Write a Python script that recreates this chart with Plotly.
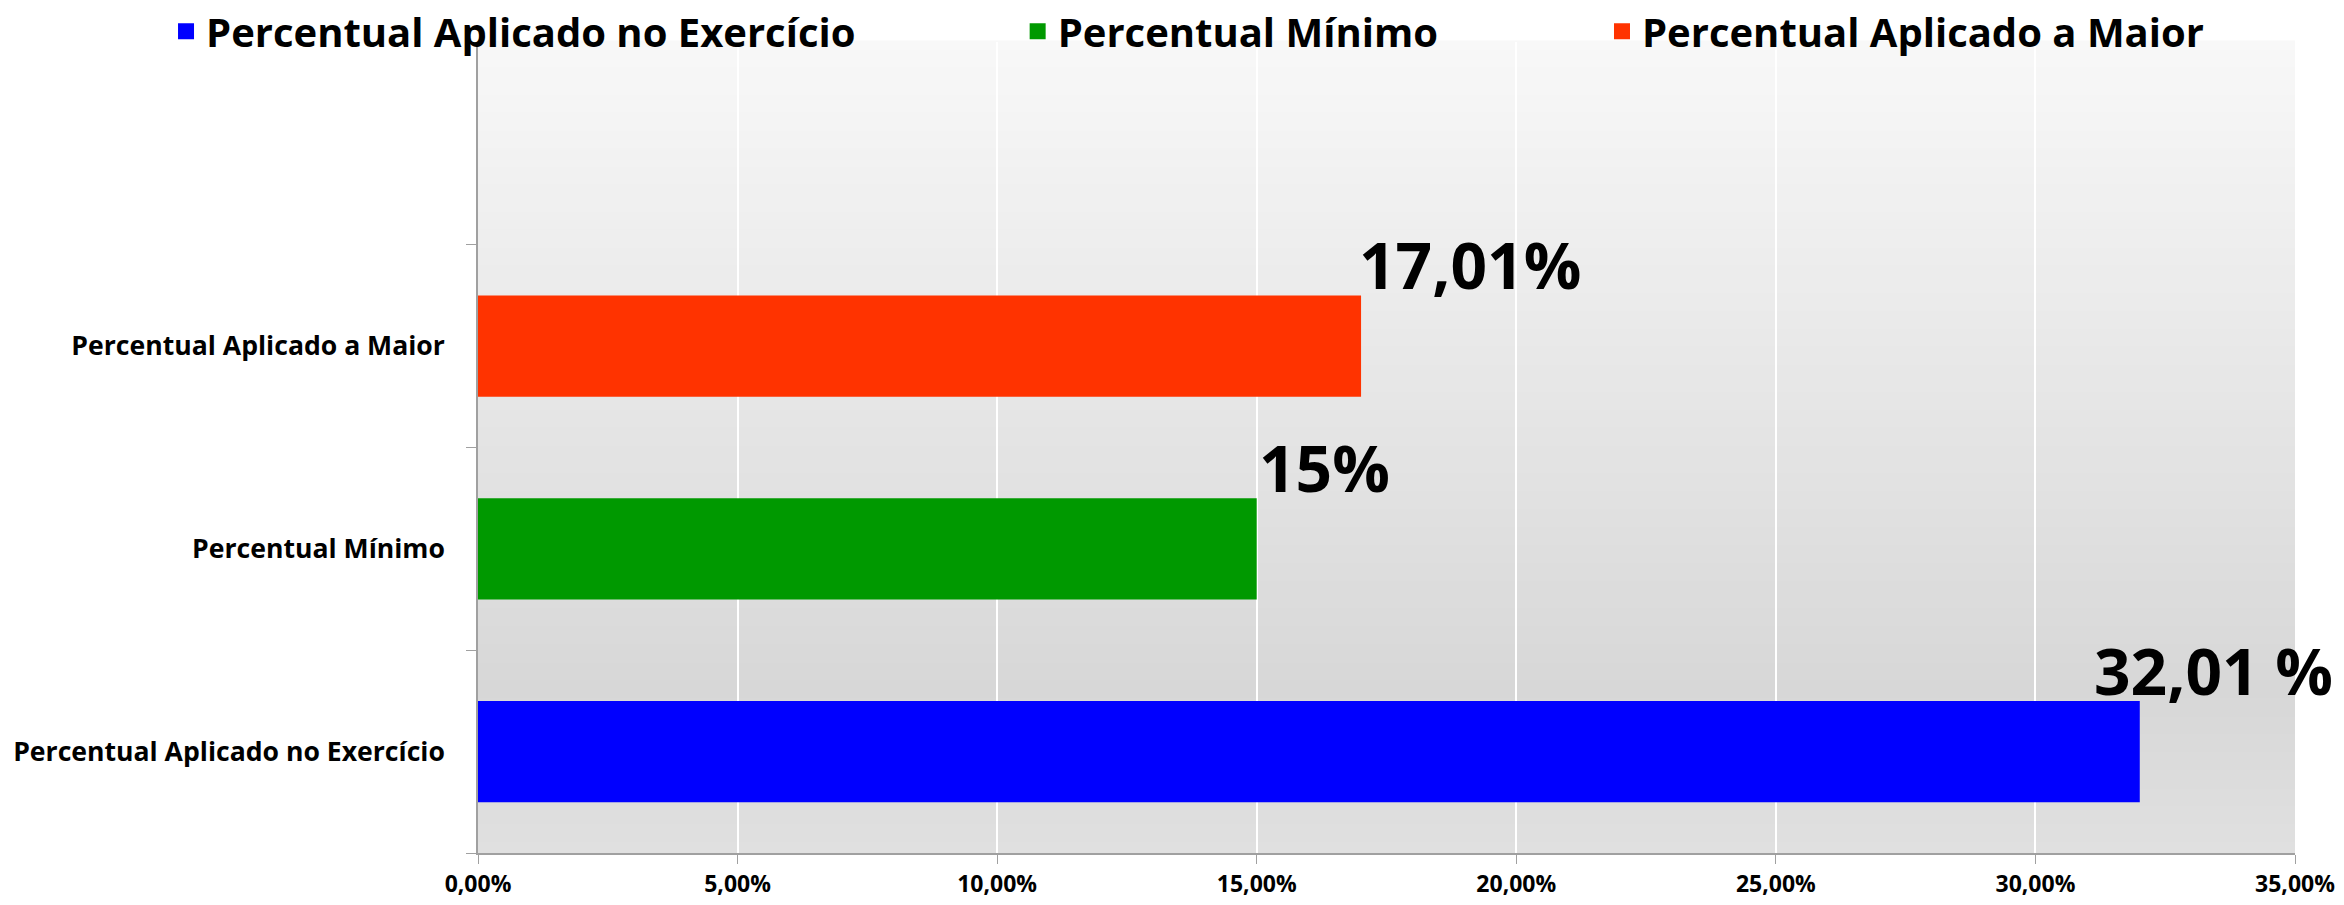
import plotly.graph_objects as go

# ---- data ----
categories = ["Percentual Aplicado no Exercício", "Percentual Mínimo", "Percentual Aplicado a Maior"]
values = [0.3201, 0.15, 0.1701]
value_labels = ["32,01 %", "15%", "17,01%"]
bar_colors = ["#0000FF", "#009900", "#FF3300"]
x_ticks = [0, 0.05, 0.10, 0.15, 0.20, 0.25, 0.30, 0.35]

FONT = "Open Sans"
W, H = 2344, 905
ML, MR, MT, MB = 478, 49, 42, 52

fig = go.Figure()

legend_names = ["legend", "legend2", "legend3"]
for cat, val, col, lg in zip(categories, values, bar_colors, legend_names):
    fig.add_trace(go.Bar(
        y=[cat], x=[val], orientation="h", width=0.5,
        marker=dict(color=col, line=dict(width=0)),
        showlegend=False, hoverinfo="x+y",
    ))
    # legend proxy (bigger square symbol)
    fig.add_trace(go.Scatter(
        x=[None], y=[None], mode="markers", name=cat,
        marker=dict(symbol="square", size=16, color=col),
        legend=lg, showlegend=True,
    ))

# background vertical gradient (plot area)
stops = [(0.0, 248), (0.22, 239), (0.59, 224), (0.8, 215), (1.0, 224)]
def shade(f):
    for (a, ca), (b, cb) in zip(stops[:-1], stops[1:]):
        if a <= f <= b:
            return ca + (cb - ca) * (f - a) / (b - a)
    return stops[-1][1]

N = 90
shapes = []
for i in range(N):
    f0 = i / N
    f1 = (i + 1) / N
    v = int(round(shade((f0 + f1) / 2)))
    c = f"rgb({v},{v},{v})"
    shapes.append(dict(type="rect", xref="x domain", yref="y domain",
                       x0=0, x1=1, y0=1 - f1, y1=1 - f0 + 0.002,
                       fillcolor=c, line=dict(width=0), layer="below"))

# data labels
label_xshift = [-48, 0, -4]
annotations = []
for cat, val, txt, xs in zip(categories, values, value_labels, label_xshift):
    annotations.append(dict(
        x=val, y=cat, xref="x", yref="y", text=txt, showarrow=False,
        xanchor="left", yanchor="bottom", xshift=xs, yshift=36,
        font=dict(family=FONT, size=64, color="black", weight="bold"),
    ))

legend_common = dict(
    orientation="h", yanchor="middle", y=1.0133, xanchor="left",
    bgcolor="rgba(0,0,0,0)", borderwidth=0,
    font=dict(family=FONT, size=40, color="black", weight="bold"),
)
layout_legends = {
    "legend": dict(x=-0.1717, **legend_common),
    "legend2": dict(x=0.2970, **legend_common),
    "legend3": dict(x=0.6186, **legend_common),
}

fig.update_layout(
    width=W, height=H,
    margin=dict(l=ML, r=MR, t=MT, b=MB, pad=0, autoexpand=False),
    paper_bgcolor="white",
    plot_bgcolor="rgba(0,0,0,0)",
    barmode="overlay",
    separators=",.",
    shapes=shapes,
    annotations=annotations,
    **layout_legends,
)

fig.update_xaxes(
    range=[0, 0.35], tickvals=x_ticks, tickformat=".2%",
    showgrid=True, gridcolor="white", gridwidth=1.5,
    zeroline=False,
    showline=True, linecolor="#a0a0a0", linewidth=2,
    ticks="outside", ticklen=9, tickcolor="#a0a0a0", tickwidth=1,
    ticklabelstandoff=0,
    tickfont=dict(family=FONT, size=23, color="black", weight="bold"),
    fixedrange=True,
)
fig.update_yaxes(
    type="category", categoryorder="array", categoryarray=categories,
    range=[-0.5, 3.5],
    showgrid=False, zeroline=False,
    showline=True, linecolor="#a0a0a0", linewidth=1.5,
    ticks="outside", tickson="boundaries", ticklen=10, tickcolor="#a0a0a0", tickwidth=1,
    ticklabelstandoff=26,
    tickfont=dict(family=FONT, size=26.6, color="black", weight="bold"),
    fixedrange=True,
)

fig.write_html(
    "out.html",
    config={"displayModeBar": False},
    post_script="document.body.style.margin='0';document.body.style.overflow='hidden';",
)
